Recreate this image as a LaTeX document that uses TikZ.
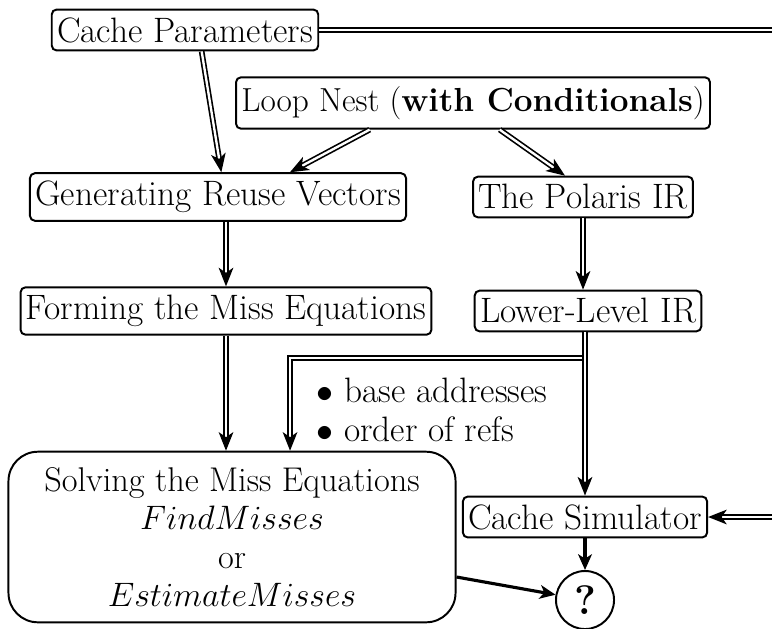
\documentclass[tikz,border=0pt]{standalone}
\usetikzlibrary{positioning, arrows.meta}

\begin{document}
\begin{tikzpicture}[x=0.51pt, y=-0.51pt,
    every node/.style={font=\fontsize{18}{19.5}\selectfont},
    box/.style={draw, rounded corners=2.5pt, line width=1pt, inner xsep=2.7pt, inner ysep=4pt},
    dbl/.style={double, double distance=1.2pt, line width=0.85pt, -{Stealth[length=9.5pt, width=7.5pt, inset=2.6pt]}},
    sgl/.style={line width=1.6pt, -{Stealth[length=8pt, width=7pt, inset=2.2pt]}}]
                \useasboundingbox (0,0) rectangle (772,628);
                \node[box] (Cache Parameters) at (185,30) {Cache Parameters};
                \node[box, font=\fontsize{17}{19}\selectfont, inner ysep=4.6pt] (Loop Nest) at (473,103) {Loop Nest (\textbf{with Conditionals})};
                \node[box] (Generating Reuse Vectors) at (218,197) {Generating Reuse Vectors};
                \node[box] (The Polaris IR) at (583,197) {The Polaris IR};
                \node[box] (Forming the Miss Equations) at (226,311) {Forming the Miss Equations};
                \node[box] (Lower-Level IR) at (588,311) {Lower-Level IR};
                \node[align=left] (Info) at (432,410) {$\bullet$ base addresses\\ $\bullet$ order of refs};
                \node[draw, rounded corners=15pt, line width=1pt, align=center, minimum width=228pt, minimum height=87pt,
                    font=\fontsize{17.5}{19.6}\selectfont] (Solving the Miss Equations) at (232,537)
                    {Solving the Miss Equations\\ $FindMisses$\\ or\\ $EstimateMisses$};
                \node[box] (Cache Simulator) at (585,517) {Cache Simulator};
                \node[draw, circle, line width=1pt, minimum size=29.6pt, inner sep=0pt, font=\fontsize{21}{24}\selectfont\bfseries] (Question) at (585,600) {?};

                \coordinate (Right Top) at (772,30);
                \coordinate (Right Sim) at (772,517);
                \coordinate (Bend) at (585,358);

                \draw[double, double distance=1.2pt, line width=0.85pt] (Cache Parameters) -- (Right Top);
                \draw[dbl] ([xshift=8.5pt]Cache Parameters.south) -- ([xshift=1.7pt]Generating Reuse Vectors.north);
                \draw[dbl] ([xshift=-52.7pt]Loop Nest.south) -- ([xshift=36.7pt]Generating Reuse Vectors.north);
                \draw[dbl] ([xshift=13.6pt]Loop Nest.south) -- ([xshift=-9.2pt]The Polaris IR.north);
                \draw[dbl] (Forming the Miss Equations.north |- Generating Reuse Vectors.south) -- (Forming the Miss Equations.north);
                \draw[dbl] (The Polaris IR.south) -- (The Polaris IR.south |- Lower-Level IR.north);
                \draw[dbl] (Forming the Miss Equations.south) -- (Forming the Miss Equations.south |- Solving the Miss Equations.north);
                \draw[dbl] (Lower-Level IR.south -| Bend) -- (Bend) -| ([xshift=29.6pt]Solving the Miss Equations.north);
                \draw[dbl] (Lower-Level IR.south -| Bend) -- (Cache Simulator.north -| Bend);
                \draw[dbl] (Right Sim) -- (Cache Simulator);
                \draw[sgl] (Cache Simulator) -- (Question);
                \draw[sgl] ([yshift=-20.4pt]Solving the Miss Equations.east) -- (Question);

            \end{tikzpicture}
\end{document}
